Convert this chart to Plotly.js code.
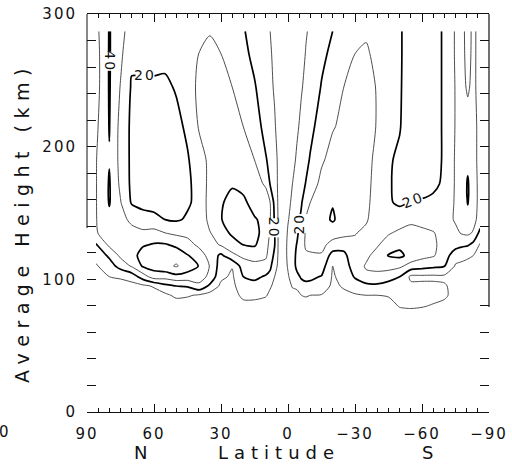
<!DOCTYPE html>
<html>
<head>
<meta charset="utf-8">
<script src="https://cdn.plot.ly/plotly-3.0.1.min.js"></script>
<style>
html,body{margin:0;padding:0;background:#fff;}
#chart{width:512px;height:472px;}
.xtick text, .ytick text { letter-spacing: 2px; }
.annotation .annotation-text { letter-spacing: 2px; }
.annotation[data-index="0"] .annotation-text { letter-spacing: 6.5px; }
.annotation[data-index="1"] .annotation-text { letter-spacing: 6px; }
</style>
</head>
<body>
<div id="chart"></div>
<script>
// Latitude columns (deg, south negative) and height rows (km) of the gridded field
const latitudes = [-86, -83, -80.5, -78, -75, -70, -65, -60, -55, -50, -45, -40, -35, -30, -25, -20, -15, -10, -8, -6, -4, -2, 0, 2, 4, 6, 8, 10, 15, 20, 25, 30, 35, 40, 45, 50, 55, 60, 65, 70, 75, 80, 86];
const heights = [70, 80, 88, 95, 102, 110, 118, 126, 135, 145, 158, 172, 190, 215, 245, 270, 287];

// Field values (m/s) along height, one array per latitude column
const zS86  = [2, 3, 4, 5, 6, 7, 8, 9, 17, 26, 27, 27, 27, 27, 26.5, 26.5, 26.5];
const zS83  = [2, 3, 4, 5, 6, 7, 10, 17, 29, 33, 34, 34, 33, 33, 32, 32, 32];
const zS80  = [2, 3, 5, 6, 7, 8, 11, 21, 32, 37, 40.5, 41, 38, 33, 29, 27.5, 27];
const zS78  = [2, 3, 5, 6, 7, 8.5, 12, 22, 31, 33, 34, 35, 34, 33, 32, 32, 32];
const zS75  = [2, 4, 6, 7, 8, 9, 14, 24, 28, 31, 31, 31, 31, 30.5, 30.5, 31, 31];
const zS70  = [2, 7, 12, 11, 8, 20.5, 25, 27, 27, 26, 24, 21.5, 21, 21, 21, 21, 21];
const zS65  = [2, 9, 14, 12, 8, 22, 31, 31.5, 30.5, 26, 22, 18, 17, 17, 17, 17, 17];
const zS60  = [2, 11, 14, 12, 8, 24, 33, 33, 32, 27, 21, 16, 15, 15, 15, 15.5, 16];
const zS55  = [2, 12, 14, 12, 8, 26, 37, 38, 35, 27, 20.5, 16, 15, 15, 15, 16, 16];
const zS50  = [2, 11, 12, 15, 20, 32, 42, 38, 32, 25, 18.5, 17.5, 18.5, 20.5, 21, 21, 21];
const zS45  = [1, 5, 11, 16, 24, 34, 40.5, 35, 29, 24, 21, 21, 21, 22, 23, 23, 22];
const zS40  = [1, 4, 10, 18, 27, 33, 33.5, 29, 27, 25, 25, 26, 27.5, 29.5, 29.5, 28, 26];
const zS35  = [1, 4, 10, 17, 28, 31, 28, 26, 28, 31, 32.5, 33, 33, 33, 32.5, 31, 29];
const zS30  = [1, 4, 9, 15, 21, 25, 27, 28, 30.5, 34, 36, 35, 34, 33, 32, 30, 27];
const zS25  = [1, 3, 8, 11, 13, 15, 17.5, 24, 33, 36, 37, 35, 33, 31.5, 30, 28, 26];
const zS20  = [1, 4, 7, 8, 9, 10, 16, 26, 35, 41, 39.5, 36, 32.5, 29.5, 25, 22, 20];
const zS15  = [1, 5, 9.5, 16, 19.5, 25, 29, 33, 36, 37, 35, 32, 29, 25, 20.5, 18, 16];
const zS10  = [1, 5, 10, 18, 21.5, 26, 29, 32, 33, 32, 30, 26, 21, 17, 14, 12, 11];
const zS8   = [1, 5, 11, 18, 22, 27, 29, 31, 31, 30.5, 27, 20.5, 17, 14, 11.5, 10.3, 9.5];
const zS6   = [1, 4, 10, 17, 21, 26, 28, 27, 25, 22.5, 19, 16, 14, 11.5, 9.5, 8, 7];
const zS4   = [1, 3, 7, 12, 18, 22, 22, 20.5, 18, 16, 14, 12.5, 11, 9, 7, 6, 6];
const zS2   = [1, 3, 6, 11, 14, 16, 16, 16, 15, 13, 11.5, 10, 8, 6, 5.5, 5, 5];
const zEq   = [1, 2, 4, 6, 9, 11, 12, 12, 11, 9.5, 8, 7, 6, 5, 5, 5, 5];
const zN2   = [1, 2, 4, 5, 5, 5, 5, 5, 5, 5, 5, 5, 5, 5, 5, 5, 5];
const zN4   = [1, 3, 5, 7, 7, 7, 7, 7, 7, 7, 7, 7, 7, 6, 6, 6, 6];
const zN6   = [1, 3, 6, 8, 10, 14, 18, 20.5, 20.5, 19, 17, 15, 14, 11, 9, 8, 7.5];
const zN8   = [1, 4, 8, 11, 17, 22, 25, 27, 29, 30.5, 30, 19.5, 17, 14, 12, 11, 10];
const zN10  = [1, 5, 11, 15, 19, 26, 32, 34, 36, 37, 34, 29, 21, 16, 13, 12, 11];
const zN15  = [1, 6, 13, 17, 22, 27, 34, 41, 43, 41, 36, 33, 30, 26, 21, 17, 15];
const zN20  = [1, 6, 13, 17, 20, 25, 32, 40, 44, 46, 42, 37, 33, 30, 26, 23, 21];
const zN25  = [1, 3, 5, 7, 8.5, 10.5, 28, 35, 42, 45, 43, 39, 35, 33, 30, 27, 25];
const zN30  = [1, 3, 5, 8, 12, 15, 18, 31, 35, 39.5, 39, 36, 35, 34, 32, 30, 27.5];
const zN35  = [1, 4, 6, 18, 28, 29.5, 26, 26, 29.5, 33, 34, 33, 32, 32, 33, 32, 29.5];
const zN40  = [1, 5, 9, 28, 34, 39.8, 36, 28, 24, 22, 22, 23, 26, 30.5, 32, 30, 26.5];
const zN45  = [1, 5, 11, 21, 36, 45, 40.5, 34, 27, 21, 19, 18.5, 19, 22, 25, 26, 26];
const zN50  = [1, 5, 12, 20, 37, 51, 46, 38, 28, 19, 15, 14, 15, 17, 21, 24, 25];
const zN55  = [1, 4, 8, 17, 34, 47, 48, 41, 30, 20, 15, 13, 12, 12, 18, 23, 24];
const zN60  = [1, 3, 6, 11, 35, 44, 47, 41, 33, 23, 16, 14, 13, 13, 19, 22, 23];
const zN65  = [1, 3, 5, 8, 25, 41, 44, 39, 32, 24, 17, 15, 15, 15, 19, 22, 23];
const zN70  = [1, 3, 5, 7, 14, 31, 36, 37, 33, 28, 19, 18, 18, 18, 19, 22, 24];
const zN75  = [2, 3, 5, 7, 11, 24, 32, 34, 34, 33, 30.5, 28, 27, 27, 29.5, 32, 34];
const zN80  = [2, 4, 6, 8, 10, 15, 22, 32, 36, 38, 40.6, 40.8, 39.5, 40.4, 40.8, 40.8, 40.6];
const zN86  = [2, 4, 5, 6, 7, 9, 13, 19, 29, 29.5, 29.5, 29.5, 29.5, 28, 26, 26, 27];

// Axis ticks
const latTickVals = [90, 60, 30, 0, -30, -60, -90];
const latTickText = ['90', '60', '30', '0', '\u221230', '\u221260', '\u221290'];
const heightTickVals = [0, 100, 200, 300];
const heightTickText = ['0', '100', '200', '300'];

const zColumns = [zS86, zS83, zS80, zS78, zS75, zS70, zS65, zS60, zS55, zS50, zS45, zS40, zS35, zS30, zS25, zS20, zS15, zS10, zS8, zS6, zS4, zS2, zEq, zN2, zN4, zN6, zN8, zN10, zN15, zN20, zN25, zN30, zN35, zN40, zN45, zN50, zN55, zN60, zN65, zN70, zN75, zN80, zN86];

const thin = {
  type: 'contour', x: latitudes, y: heights, z: zColumns, transpose: true,
  autocontour: false,
  contours: {start: 10, end: 50, size: 20, coloring: 'lines', showlabels: false},
  line: {width: 0.9, smoothing: 0.7},
  colorscale: [[0, '#3a3a3a'], [1, '#3a3a3a']], showscale: false, hoverinfo: 'skip'
};
const thick = {
  type: 'contour', x: latitudes, y: heights, z: zColumns, transpose: true,
  autocontour: false,
  contours: {start: 20, end: 40, size: 20, coloring: 'lines', showlabels: false},
  line: {width: 1.7, smoothing: 0.7},
  colorscale: [[0, '#000'], [1, '#000']], showscale: false, hoverinfo: 'skip'
};
// empty helper trace so the tick-only overlay axis is drawn
const tickHolder = {type: 'scatter', x: [], y: [], xaxis: 'x2', yaxis: 'y', hoverinfo: 'skip', showlegend: false};

const font = 'DejaVu Sans, sans-serif';
const lblFont = {family: font, size: 14, color: '#111'};

const layout = {
  width: 512, height: 472,
  margin: {l: 87, r: 23, t: 14, b: 60},
  paper_bgcolor: '#fff', plot_bgcolor: '#fff', showlegend: false,
  font: {family: font, color: '#111'},
  xaxis: {
    range: [90, -90], tickmode: 'array', tickvals: latTickVals, ticktext: latTickText,
    ticks: 'inside', ticklen: 8, tickwidth: 1, tickcolor: '#111', mirror: 'allticks',
    showline: true, linecolor: '#111', linewidth: 1, layer: 'above traces',
    showgrid: false, zeroline: false,
    minor: {tickmode: 'linear', tick0: 0, dtick: 5, ticks: 'inside', ticklen: 4, tickwidth: 1, tickcolor: '#111', showgrid: false},
    tickfont: {family: font, size: 15, color: '#111'}, ticklabelstandoff: 8
  },
  xaxis2: {
    overlaying: 'x', anchor: 'y', side: 'bottom', range: [-90, 90],
    tickmode: 'linear', tick0: 0, dtick: 30, showticklabels: false,
    ticks: 'inside', ticklen: 8, tickwidth: 1, tickcolor: '#111', mirror: 'allticks',
    showline: true, linecolor: '#111', linewidth: 1, showgrid: false, zeroline: false,
    minor: {tickmode: 'linear', tick0: 0, dtick: 5, ticks: 'inside', ticklen: 4, tickwidth: 1, tickcolor: '#111', showgrid: false}
  },
  yaxis: {
    range: [0, 300], tickmode: 'array', tickvals: heightTickVals, ticktext: heightTickText,
    ticks: 'inside', ticklen: 9, tickwidth: 1, tickcolor: '#111', mirror: 'allticks',
    showline: false, showgrid: false, zeroline: false,
    minor: {tickmode: 'linear', tick0: 0, dtick: 20, ticks: 'inside', ticklen: 4, tickwidth: 1, tickcolor: '#111', showgrid: false},
    tickfont: {family: font, size: 15, color: '#111'}, ticklabelstandoff: 9
  },
  shapes: [
    {type: 'line', xref: 'paper', yref: 'paper', x0: 0, x1: 0, y0: 0.462, y1: 1, line: {color: '#111', width: 1}},
    {type: 'line', xref: 'paper', yref: 'paper', x0: 1, x1: 1, y0: 0.264, y1: 1, line: {color: '#111', width: 1.2}}
  ],
  annotations: [
    {text: 'Average Height (km)', xref: 'paper', yref: 'paper', x: -0.1617, y: 0.477, textangle: -90,
     showarrow: false, xanchor: 'center', yanchor: 'middle', font: {family: font, size: 19, color: '#111'}},
    {text: 'Latitude', xref: 'paper', yref: 'paper', x: 0.4776, y: -0.103,
     showarrow: false, xanchor: 'center', yanchor: 'middle', font: {family: font, size: 18, color: '#111'}},
    {text: 'N', xref: 'paper', yref: 'paper', x: 0.1356, y: -0.103,
     showarrow: false, xanchor: 'center', yanchor: 'middle', font: {family: font, size: 18, color: '#111'}},
    {text: 'S', xref: 'paper', yref: 'paper', x: 0.8507, y: -0.103,
     showarrow: false, xanchor: 'center', yanchor: 'middle', font: {family: font, size: 18, color: '#111'}},
    {text: '0', xref: 'paper', yref: 'paper', x: -0.204, y: -0.0503,
     showarrow: false, xanchor: 'center', yanchor: 'middle', font: {family: font, size: 15, color: '#111'}},
    {text: '40', x: 79.5, y: 264, textangle: 90, showarrow: false, bgcolor: '#fff', borderpad: 0, font: lblFont},
    {text: '20', x: 64, y: 254, textangle: 0, showarrow: false, bgcolor: '#fff', borderpad: 0, font: lblFont},
    {text: '20', x: 5.9, y: 139, textangle: 90, showarrow: false, bgcolor: '#fff', borderpad: 0, font: lblFont},
    {text: '20', x: -4.9, y: 142, textangle: -90, showarrow: false, bgcolor: '#fff', borderpad: 0, font: lblFont},
    {text: '20', x: -56, y: 160, textangle: -22, showarrow: false, bgcolor: '#fff', borderpad: 0, font: lblFont}
  ]
};

Plotly.newPlot('chart', [thin, thick, tickHolder], layout, {staticPlot: true, displayModeBar: false});
</script>
</body>
</html>
